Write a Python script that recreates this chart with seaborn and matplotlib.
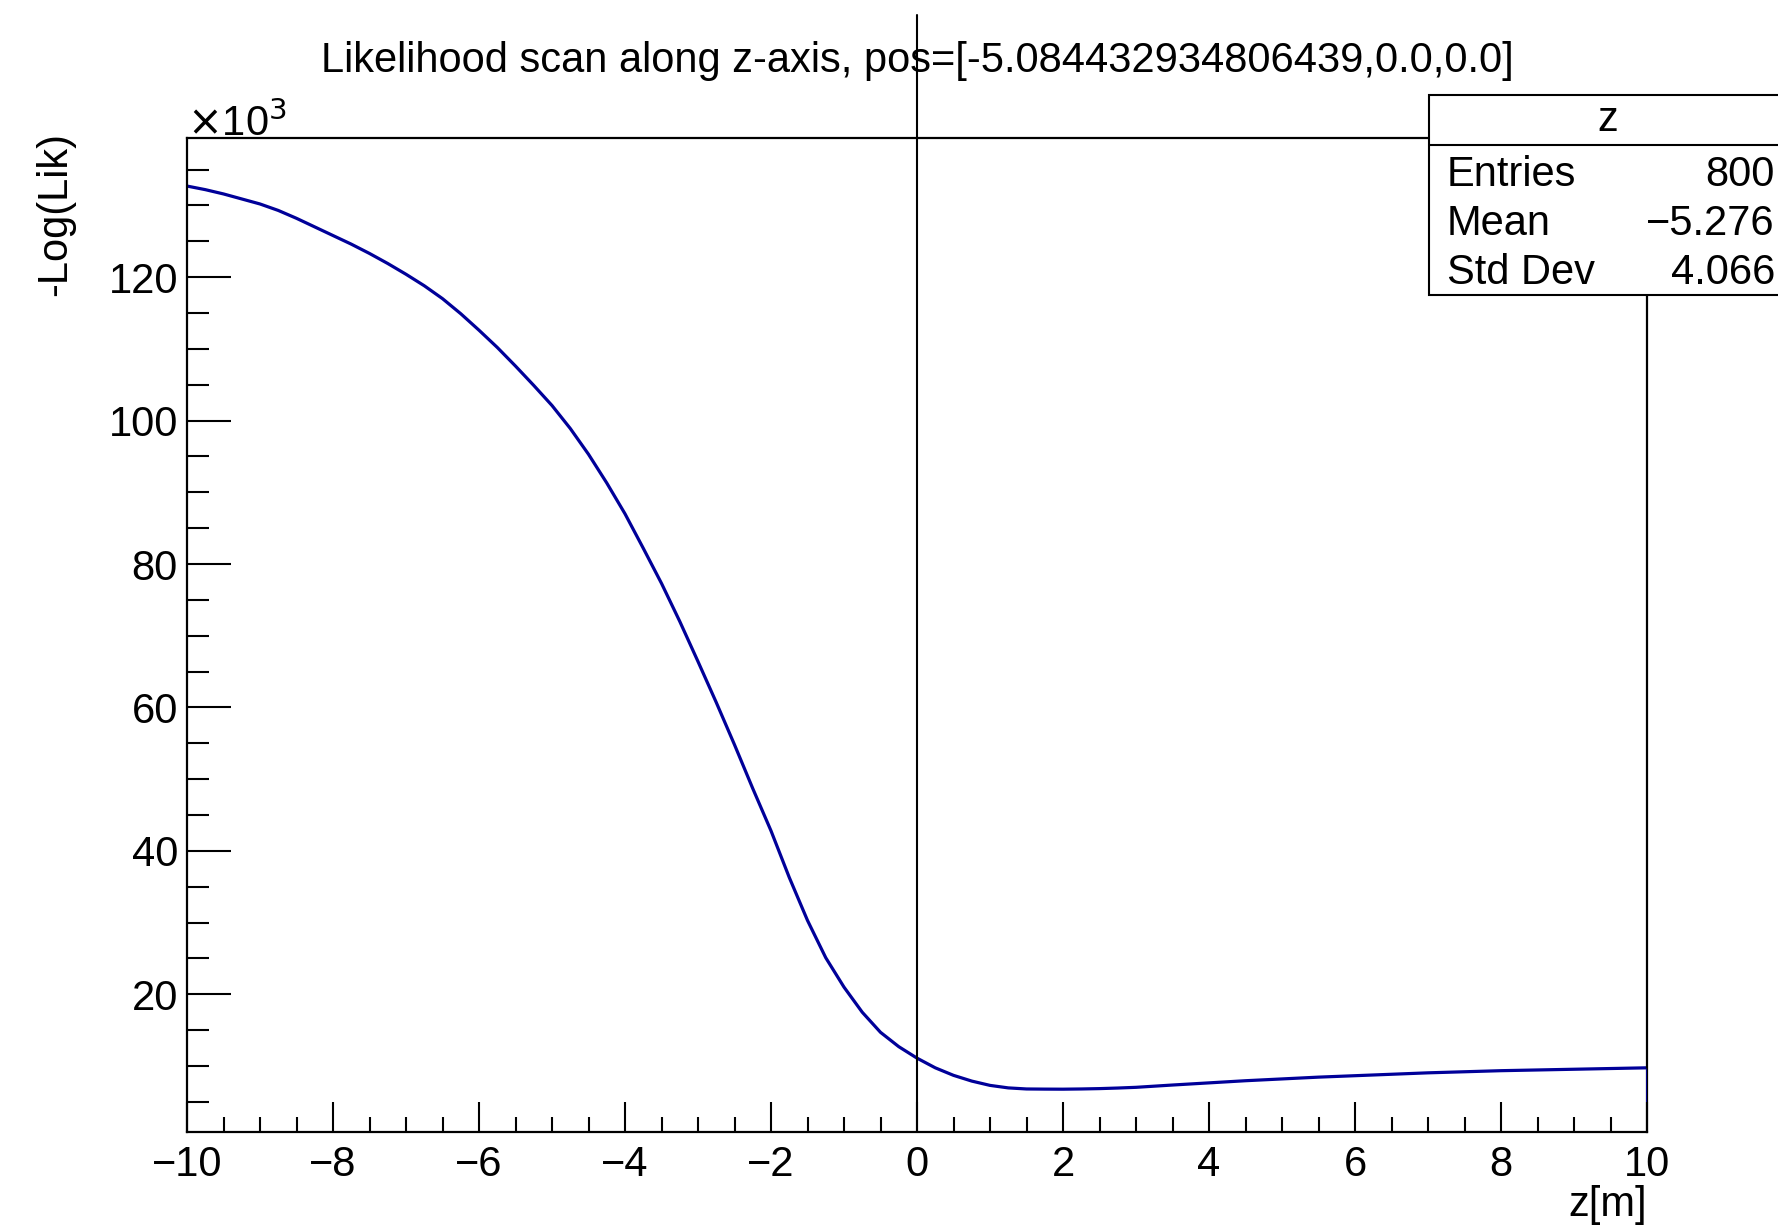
import numpy as np
import pandas as pd
import matplotlib
matplotlib.use("Agg")
import matplotlib.pyplot as plt
from matplotlib.ticker import MultipleLocator
from matplotlib.patches import Rectangle
import seaborn as sns

# Scan position along z [m]
z_pos = [-10.0, -9.75, -9.5, -9.25, -9.0, -8.75, -8.5, -8.25, -8.0, -7.75,
         -7.5, -7.25, -7.0, -6.75, -6.5, -6.25, -6.0, -5.75, -5.5, -5.25,
         -5.0, -4.75, -4.5, -4.25, -4.0, -3.75, -3.5, -3.25, -3.0, -2.75,
         -2.5, -2.25, -2.0, -1.75, -1.5, -1.25, -1.0, -0.75, -0.5, -0.25,
         0.0, 0.25, 0.5, 0.75, 1.0, 1.25, 1.5, 1.75, 2.0, 2.25,
         2.5, 2.75, 3.0, 3.5, 4.0, 4.5, 5.0, 5.5, 6.0, 6.5,
         7.0, 7.5, 8.0, 8.5, 9.0, 9.5, 10.0]

# -log(likelihood) at each position
neg_log_lik = [132700, 132200, 131600, 130900, 130200, 129300, 128200, 127000, 125800, 124600,
               123300, 121900, 120400, 118800, 117000, 114900, 112600, 110200, 107600, 104900,
               102100, 98900, 95300, 91300, 87000, 82200, 77300, 72000, 66400, 60700,
               54800, 48700, 42800, 36300, 30300, 25100, 21000, 17500, 14700, 12700,
               11100, 9750, 8700, 7900, 7300, 6950, 6800, 6780, 6770, 6800,
               6850, 6930, 7030, 7350, 7650, 7950, 8200, 8450, 8650, 8850,
               9050, 9200, 9350, 9450, 9550, 9650, 9750]

title_text = "Likelihood scan along z-axis, pos=[-5.084432934806439,0.0,0.0]"
stats_name = "z"
stats_labels = ["Entries", "Mean", "Std Dev"]
stats_values = ["800", "\u22125.276", "4.066"]

sns.set_theme(style="white")
plt.rcParams["font.family"] = ["Liberation Sans", "DejaVu Sans"]
plt.rcParams["axes.unicode_minus"] = True

W, H = 1778, 1225
fig = plt.figure(figsize=(W / 100, H / 100), dpi=100)
fig.patch.set_facecolor("white")

# frame geometry in pixels
L, R, T, B = 187, 1647, 138, 1132
ax = fig.add_axes([L / W, 1 - B / H, (R - L) / W, (B - T) / H])
ax.set_facecolor("white")

df = pd.DataFrame({"z": z_pos, "nll": np.array(neg_log_lik) / 1000.0})
line_color = "#000099"
sns.lineplot(data=df, x="z", y="nll", ax=ax, color=line_color, lw=2.3,
             sort=False, estimator=None, zorder=2)

ymin, ymax = 0.8, 139.4
ax.set_xlim(-10, 10)
ax.set_ylim(ymin, ymax)

# histogram outline closes down to the frame at the last bin edge
ax.vlines(df["z"].iloc[-1], ymin, df["nll"].iloc[-1], color=line_color,
          lw=2.0, zorder=2.6)

# marker line at z = 0, reaching up into the title area
ax.axvline(0, ymin=0, ymax=(B - 15) / (B - T), color="black", lw=1.5,
           clip_on=False, zorder=3)

ax.set_xlabel("")
ax.set_ylabel("")
for s in ax.spines.values():
    s.set_color("black")
    s.set_linewidth(1.6)
    s.set_visible(True)

ax.xaxis.set_major_locator(MultipleLocator(2))
ax.xaxis.set_minor_locator(MultipleLocator(0.5))
ax.yaxis.set_major_locator(MultipleLocator(20))
ax.yaxis.set_minor_locator(MultipleLocator(5))

px = 0.72  # points per pixel at 100 dpi
ax.tick_params(axis="x", which="major", direction="in", length=30 * px,
               width=1.5, color="black", labelsize=30, pad=9.5, bottom=True, top=False)
ax.tick_params(axis="x", which="minor", direction="in", length=15 * px,
               width=1.5, color="black", bottom=True, top=False)
ax.tick_params(axis="y", which="major", direction="in", length=44 * px,
               width=1.5, color="black", labelsize=30, pad=6.5, left=True, right=False)
ax.tick_params(axis="y", which="minor", direction="in", length=22 * px,
               width=1.5, color="black", left=True, right=False)
ax.xaxis.set_zorder(3)
for lab in ax.get_xticklabels() + ax.get_yticklabels():
    lab.set_color("black")

fs = 30
# title
fig.text(((L + R) / 2) / W, 1 - 72 / H, title_text, ha="center", va="baseline",
         fontsize=fs, color="black")
# exponent marker
fig.text(L / W, 1 - 136 / H, r"$\times$10$^{3}$", ha="left", va="baseline",
         fontsize=fs, color="black")
# axis titles
fig.text(55 / W, 1 - (T - 6) / H, "-Log(Lik)", rotation=90, ha="center", va="top",
         fontsize=fs, color="black")
fig.text(R / W, 1 - 1216 / H, "z[m]", ha="right", va="baseline",
         fontsize=fs, color="black")

# statistics box
bx0, bx1, by0, by1, bdiv = 1429, 1787, 95, 295, 145
fig.patches.append(Rectangle((bx0 / W, 1 - by1 / H), (bx1 - bx0) / W, (by1 - by0) / H,
                             transform=fig.transFigure, facecolor="white",
                             edgecolor="black", lw=1.5, zorder=4, clip_on=False))
fig.lines.append(plt.Line2D([bx0 / W, bx1 / W], [1 - bdiv / H, 1 - bdiv / H],
                            transform=fig.transFigure, color="black", lw=1.5, zorder=5))
fig.text(((bx0 + bx1) / 2) / W, 1 - 131 / H, stats_name, ha="center", va="baseline",
         fontsize=fs, color="black", zorder=6)
row_base = [186, 235, 284]
for lab, val, yb in zip(stats_labels, stats_values, row_base):
    fig.text(1447 / W, 1 - yb / H, lab, ha="left", va="baseline", fontsize=fs,
             color="black", zorder=6)
    fig.text(1775 / W, 1 - yb / H, val, ha="right", va="baseline", fontsize=fs,
             color="black", zorder=6)

fig.savefig("out.png", dpi=100, facecolor="white")
